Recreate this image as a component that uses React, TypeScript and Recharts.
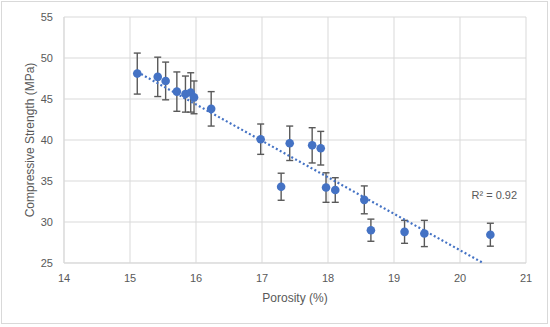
import React from 'react';
import {
  ScatterChart,
  Scatter,
  XAxis,
  YAxis,
  CartesianGrid,
  ErrorBar,
  ReferenceDot,
  Label,
} from 'recharts';

const porosity = [15.11, 15.42, 15.54, 15.71, 15.84, 15.92, 15.97, 16.23, 16.98, 17.29, 17.42, 17.76, 17.89, 17.97, 18.11, 18.55, 18.65, 19.16, 19.46, 20.46];
const strength = [48.1, 47.7, 47.2, 45.9, 45.6, 45.8, 45.2, 43.8, 40.1, 34.3, 39.6, 39.35, 39.0, 34.2, 33.9, 32.7, 29.0, 28.8, 28.6, 28.45];
const errors = [2.5, 2.4, 2.3, 2.4, 2.2, 2.4, 2.0, 2.1, 1.85, 1.65, 2.1, 2.15, 2.05, 1.8, 1.5, 1.7, 1.35, 1.4, 1.6, 1.4];

const trendX = [15.11, 20.35];
const trendY = [48.3, 25.0];

const xTicks = [14, 15, 16, 17, 18, 19, 20, 21];
const yTicks = [25, 30, 35, 40, 45, 50, 55];

const r2Text = 'R² = 0.92';

const points = porosity.map((x, i) => ({ x, y: strength[i], err: errors[i] }));
const trend = trendX.map((x, i) => ({ x, y: trendY[i] }));

const FONT = '"Liberation Sans", Arial, sans-serif';
const TEXT = '#595959';
const GRID = '#d9d9d9';
const BLUE = '#4472C4';

const Dot = (p: any) => <circle cx={p.cx} cy={p.cy} r={4.3} fill={BLUE} />;
const NoShape = () => <g />;

export default function App() {
  return (
    <div style={{ position: 'absolute', left: 0, top: 0, width: 550, height: 327, background: '#fff' }}>
      <div
        style={{
          position: 'absolute',
          left: 1,
          top: 1,
          width: 547,
          height: 323,
          border: `1px solid ${GRID}`,
          boxSizing: 'border-box',
        }}
      />
      <div style={{ position: 'absolute', left: 0, top: 0 }}>
        <ScatterChart
          width={550}
          height={327}
          margin={{ top: 17, right: 24, bottom: 24, left: 0 }}
          style={{ fontFamily: FONT }}
        >
          <CartesianGrid stroke={GRID} strokeWidth={1} />
          <XAxis
            type="number"
            dataKey="x"
            domain={[14, 21]}
            ticks={xTicks}
            interval={0}
            height={40}
            tickLine={false}
            tickSize={0}
            tickMargin={11}
            axisLine={{ stroke: GRID }}
            tick={{ fill: TEXT, fontSize: 11, fontFamily: FONT }}
            allowDataOverflow
          >
            <Label
              value="Porosity (%)"
              position="insideBottom"
              offset={1}
              fill={TEXT}
              fontSize={12}
              fontFamily={FONT}
            />
          </XAxis>
          <YAxis
            type="number"
            dataKey="y"
            domain={[25, 55]}
            ticks={yTicks}
            interval={0}
            width={64}
            tickLine={false}
            tickSize={0}
            tickMargin={11}
            axisLine={{ stroke: GRID }}
            tick={{ fill: TEXT, fontSize: 11, fontFamily: FONT }}
            allowDataOverflow
          >
            <Label
              value="Compressive Strength (MPa)"
              angle={-90}
              position="center"
              dx={-2}
              fill={TEXT}
              fontSize={12}
              fontFamily={FONT}
            />
          </YAxis>
          <Scatter
            data={trend}
            line={{ stroke: BLUE, strokeWidth: 2.2, strokeDasharray: '2 2.4' }}
            lineType="joint"
            shape={NoShape}
            isAnimationActive={false}
          />
          <Scatter data={points} shape={Dot} isAnimationActive={false}>
            <ErrorBar dataKey="err" direction="y" width={3.5} stroke="#595959" strokeWidth={1.4} />
          </Scatter>
          <ReferenceDot
            x={20.52}
            y={33.3}
            r={0}
            fill="none"
            stroke="none"
            ifOverflow="visible"
            label={{ value: r2Text, position: 'center', fill: TEXT, fontSize: 11, fontFamily: FONT }}
          />
        </ScatterChart>
      </div>
    </div>
  );
}
